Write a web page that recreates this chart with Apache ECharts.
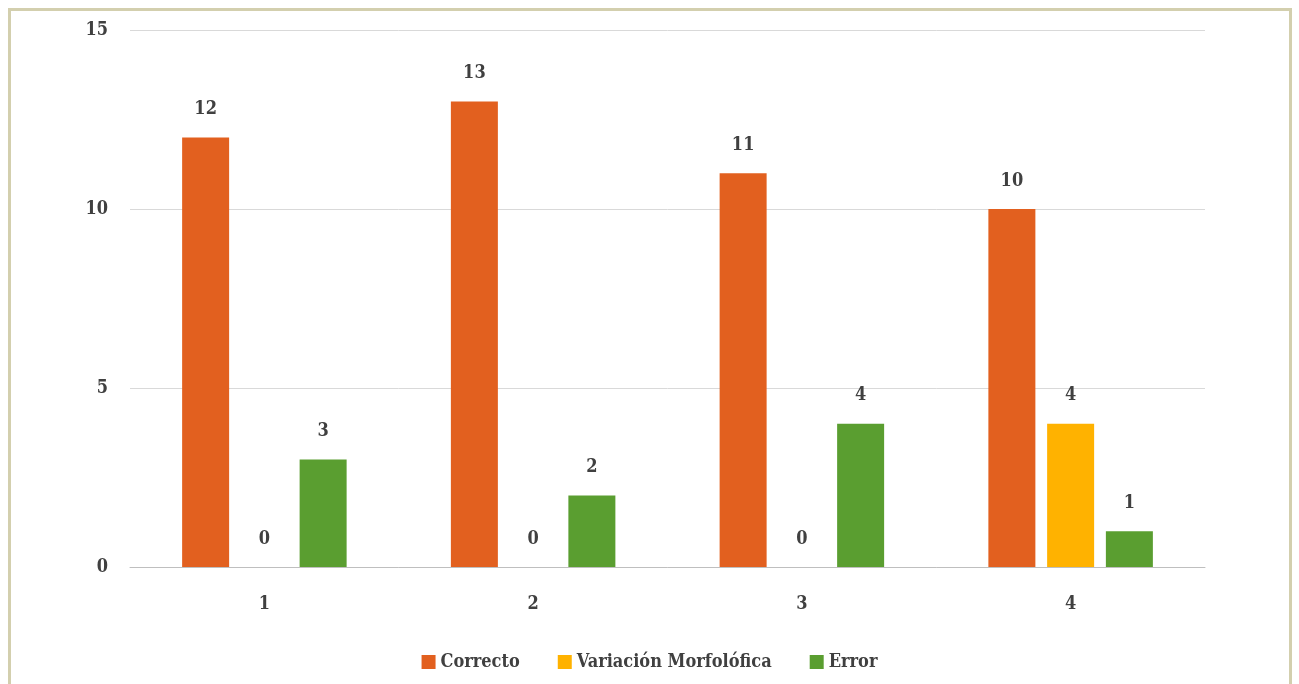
<!DOCTYPE html>
<html>
<head>
<meta charset="utf-8">
<script src="https://cdn.jsdelivr.net/npm/echarts@6/dist/echarts.min.js"></script>
<style>
  html, body { margin: 0; padding: 0; background: #fff; }
  #frame { position: absolute; left: 8px; top: 8px; width: 1284px; height: 690px; border: 3px solid #d3cfae; box-sizing: border-box; }
  #chart { position: absolute; left: 0; top: 0; width: 1299px; height: 684px; }
</style>
</head>
<body>
<div id="frame"></div>
<div id="chart"></div>
<script>
// Categories and per-series counts
const categories = ['1', '2', '3', '4'];
const correcto = [12, 13, 11, 10];
const variacion = [0, 0, 0, 4];
const errorVals = [3, 2, 4, 1];
const seriesNames = ['Correcto', 'Variación Morfolófica', 'Error'];
const colors = ['#e2601f', '#ffb200', '#5a9e30'];

const FONT = '"DejaVu Serif Condensed", "DejaVu Serif", serif';
const TEXT = '#404040';
const SIZE = 18;

const chart = echarts.init(document.getElementById('chart'), null, { renderer: 'canvas' });

function barSeries(name, data, color) {
  return {
    name: name,
    type: 'bar',
    data: data,
    barWidth: 47,
    barGap: '25%',
    itemStyle: { color: color },
    label: {
      show: true,
      position: 'top',
      distance: 19,
      color: TEXT,
      fontFamily: FONT,
      fontWeight: 'bold',
      fontSize: SIZE
    }
  };
}

chart.setOption({
  animation: false,
  backgroundColor: 'transparent',
  color: colors,
  grid: { left: 130, right: 94, top: 30, bottom: 117, containLabel: false },
  legend: {
    bottom: 8,
    left: 'center',
    itemWidth: 14,
    itemHeight: 14,
    itemGap: 38,
    icon: 'rect',
    textStyle: { color: TEXT, fontFamily: FONT, fontWeight: 'bold', fontSize: SIZE },
    data: seriesNames
  },
  xAxis: {
    type: 'category',
    data: categories,
    axisLine: { lineStyle: { color: '#bfbfbf', width: 1 } },
    axisTick: { show: false },
    axisLabel: { color: TEXT, fontFamily: FONT, fontWeight: 'bold', fontSize: SIZE, margin: 28 }
  },
  yAxis: {
    type: 'value',
    min: 0,
    max: 15,
    interval: 5,
    axisLine: { show: false },
    axisTick: { show: false },
    splitLine: { lineStyle: { color: '#d9d9d9', width: 1 } },
    axisLabel: { color: TEXT, fontFamily: FONT, fontWeight: 'bold', fontSize: SIZE, margin: 22 }
  },
  series: [
    barSeries(seriesNames[0], correcto, colors[0]),
    barSeries(seriesNames[1], variacion, colors[1]),
    barSeries(seriesNames[2], errorVals, colors[2])
  ]
});
</script>
</body>
</html>
